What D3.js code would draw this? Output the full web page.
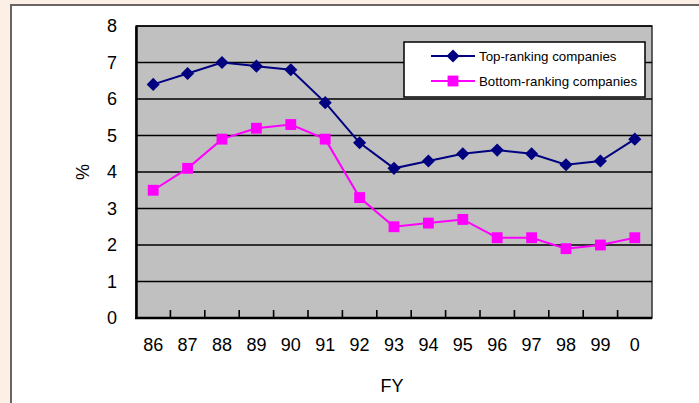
<!DOCTYPE html>
<html>
<head>
<meta charset="utf-8">
<script src="https://cdn.jsdelivr.net/npm/d3@7"></script>
<style>
  body { margin: 0; background: #fcefe6; }
  svg { display: block; font-family: Arial, "Liberation Sans", sans-serif; }
</style>
</head>
<body>
<div id="chart"></div>
<script>
var years = ['86', '87', '88', '89', '90', '91', '92', '93', '94', '95', '96', '97', '98', '99', '0']
var topRanking = [6.4, 6.7, 7.0, 6.9, 6.8, 5.9, 4.8, 4.1, 4.3, 4.5, 4.6, 4.5, 4.2, 4.3, 4.9]
var bottomRanking = [3.5, 4.1, 4.9, 5.2, 5.3, 4.9, 3.3, 2.5, 2.6, 2.7, 2.2, 2.2, 1.9, 2.0, 2.2]
var yTicks = [0, 1, 2, 3, 4, 5, 6, 7, 8]
var seriesNames = ['Top-ranking companies', 'Bottom-ranking companies']

var width = 699
var height = 403
var plot = { left: 136, right: 652, top: 26, bottom: 318 }
var font = 'Arial, "Liberation Sans", sans-serif'

var svg = d3.select('#chart').append('svg')
      .attr('width', width)
      .attr('height', height)

// outer frame
svg.append('rect')
      .attr('x', 11).attr('y', 5)
      .attr('width', width).attr('height', height)
      .attr('fill', '#fff')
      .attr('stroke', '#6b6464').attr('stroke-width', 2)

var xScale = d3.scaleBand().domain(years).range([plot.left, plot.right])
var yScale = d3.scaleLinear().domain([0, 8]).range([plot.bottom, plot.top])

svg.append('rect')
      .attr('x', plot.left).attr('y', plot.top)
      .attr('width', plot.right - plot.left).attr('height', plot.bottom - plot.top)
      .attr('fill', '#c0c0c0')
      .attr('stroke', '#333').attr('stroke-width', 1.5)

// gridlines
svg.append('g')
      .selectAll('line')
      .data(yTicks.slice(1))
      .enter().append('line')
      .attr('x1', plot.left).attr('x2', plot.right)
      .attr('y1', d => yScale(d)).attr('y2', d => yScale(d))
      .attr('stroke', '#000').attr('stroke-width', 1.6)

// y axis
var yAxis = d3.axisLeft(yScale).tickValues(yTicks).tickSize(0).tickPadding(19)
var gy = svg.append('g')
      .attr('transform', 'translate(' + plot.left + ',0)')
      .call(yAxis)
gy.select('.domain').attr('stroke', '#000').attr('stroke-width', 2.5)
gy.selectAll('text').attr('font-size', 18).attr('fill', '#000').attr('font-family', font)

// x axis
var xAxis = d3.axisBottom(xScale).tickSize(0).tickPadding(20)
var gx = svg.append('g')
      .attr('transform', 'translate(0,' + plot.bottom + ')')
      .call(xAxis)
gx.select('.domain').remove()
gx.selectAll('text').attr('font-size', 18).attr('fill', '#000').attr('font-family', font)
svg.append('line')
      .attr('x1', plot.left - 1).attr('x2', plot.right)
      .attr('y1', plot.bottom).attr('y2', plot.bottom)
      .attr('stroke', '#000').attr('stroke-width', 2.5)
svg.append('g')
      .selectAll('line')
      .data(years.slice(1))
      .enter().append('line')
      .attr('x1', d => xScale(d)).attr('x2', d => xScale(d))
      .attr('y1', plot.bottom).attr('y2', plot.bottom - 8)
      .attr('stroke', '#000').attr('stroke-width', 1.6)

// axis titles
svg.append('text')
      .attr('x', (plot.left + plot.right) / 2 - 2).attr('y', 392)
      .attr('text-anchor', 'middle').attr('font-size', 18)
      .text('FY')
svg.append('text')
      .attr('transform', 'translate(89,172) rotate(-90)')
      .attr('text-anchor', 'middle').attr('font-size', 18)
      .text('%')

var line = d3.line()
      .x((d, i) => xScale(years[i]) + xScale.bandwidth() / 2)
      .y(d => yScale(d))

svg.append('path').datum(topRanking)
      .attr('d', line).attr('fill', 'none')
      .attr('stroke', '#000080').attr('stroke-width', 2)
svg.append('path').datum(bottomRanking)
      .attr('d', line).attr('fill', 'none')
      .attr('stroke', '#ff00ff').attr('stroke-width', 2)

var diamond = d3.symbol().type(d3.symbolDiamond2).size(110)
var square = d3.symbol().type(d3.symbolSquare2).size(150)

svg.append('g').selectAll('path')
      .data(topRanking).enter().append('path')
      .attr('d', diamond)
      .attr('transform', (d, i) => 'translate(' + (xScale(years[i]) + xScale.bandwidth() / 2) + ',' + yScale(d) + ')')
      .attr('fill', '#000080')
svg.append('g').selectAll('path')
      .data(bottomRanking).enter().append('path')
      .attr('d', square)
      .attr('transform', (d, i) => 'translate(' + (xScale(years[i]) + xScale.bandwidth() / 2) + ',' + yScale(d) + ')')
      .attr('fill', '#ff00ff')

// legend
var legend = svg.append('g').attr('transform', 'translate(404,42)')
legend.append('rect')
      .attr('width', 241).attr('height', 55)
      .attr('fill', '#fff').attr('stroke', '#000').attr('stroke-width', 1.5)
var entries = [
  { name: seriesNames[0], color: '#000080', sym: diamond, y: 14 },
  { name: seriesNames[1], color: '#ff00ff', sym: square, y: 39 }
]
entries.forEach(function (e) {
  legend.append('line')
        .attr('x1', 27).attr('x2', 71).attr('y1', e.y).attr('y2', e.y)
        .attr('stroke', e.color).attr('stroke-width', 2)
  legend.append('path').attr('d', e.sym)
        .attr('transform', 'translate(49,' + e.y + ')')
        .attr('fill', e.color)
  legend.append('text')
        .attr('x', 75).attr('y', e.y + 5)
        .attr('font-size', 13.3)
        .text(e.name)
})
</script>
</body>
</html>
